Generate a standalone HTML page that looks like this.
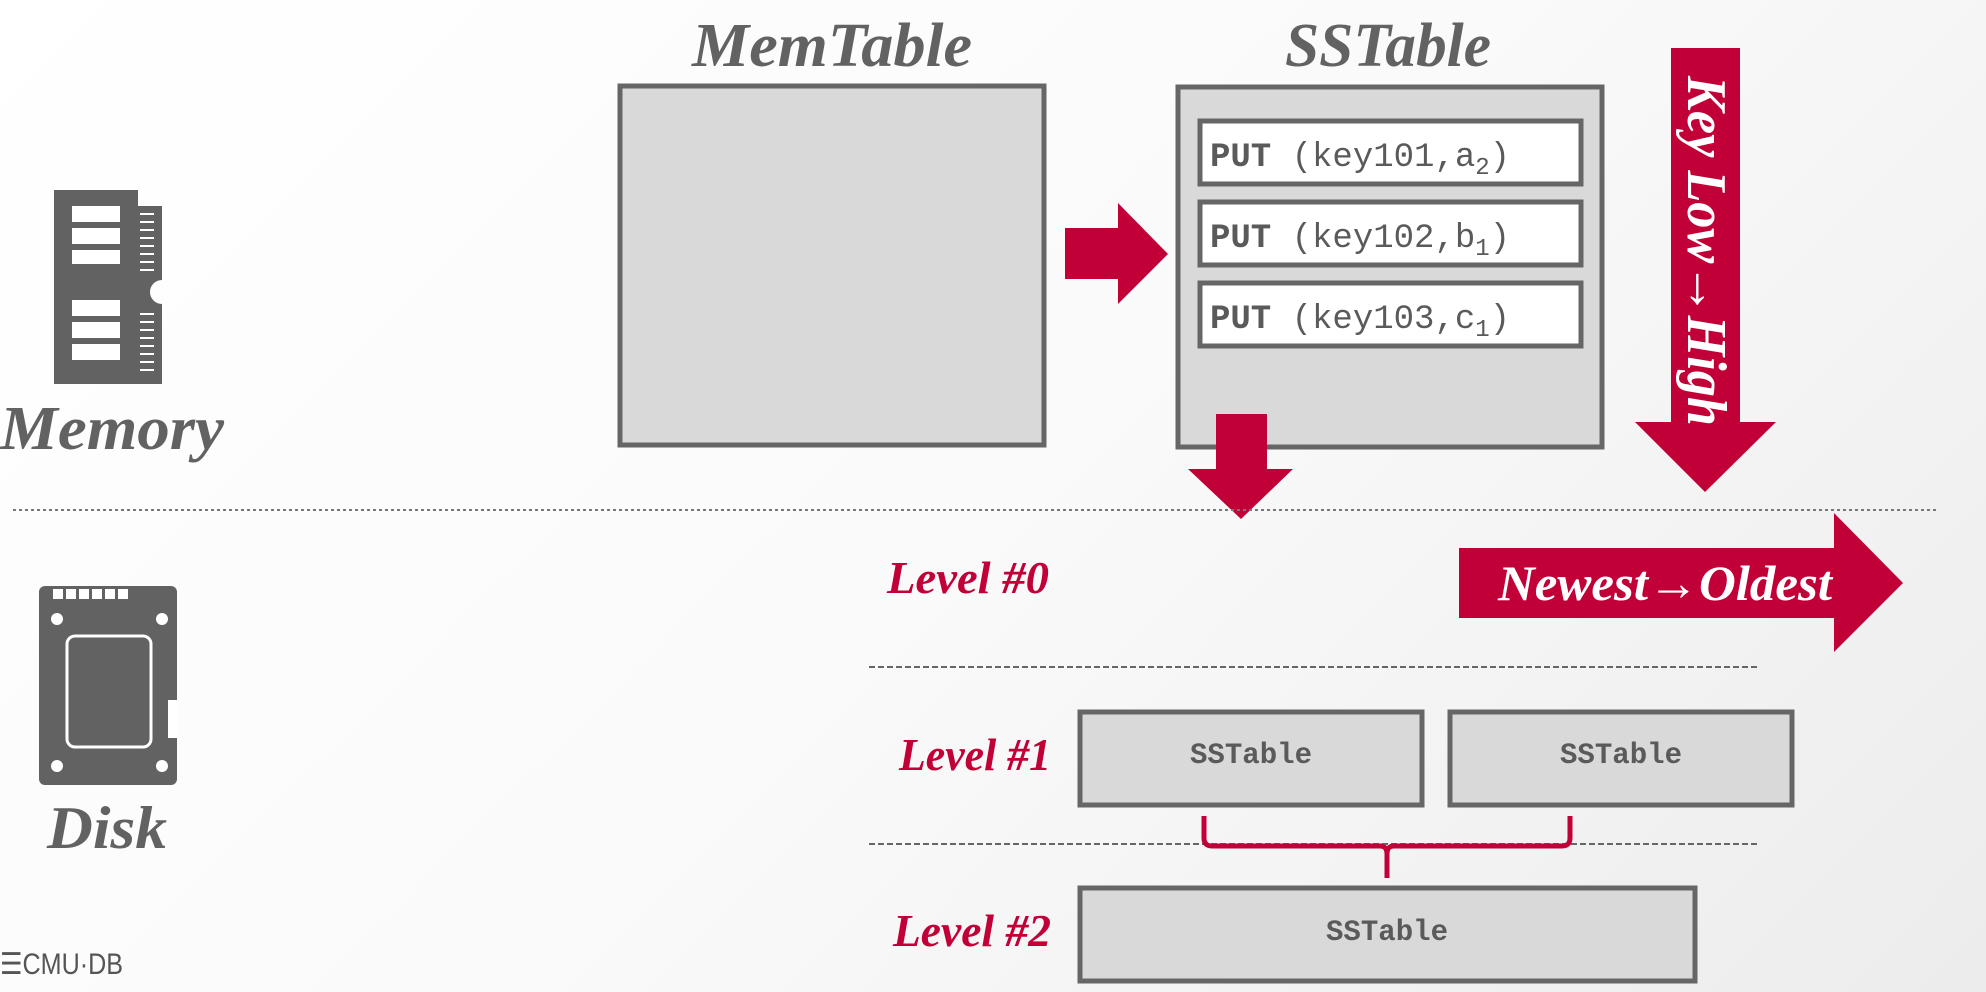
<!DOCTYPE html>
<html><head><meta charset="utf-8"><style>
html,body{margin:0;padding:0;}
body{width:1986px;height:992px;overflow:hidden;background:linear-gradient(135deg,#ffffff 0%,#fafafa 50%,#ececec 100%);}
svg{display:block}
.ti{font-family:"Liberation Serif",serif;font-style:italic;font-weight:bold;}
.mono{font-family:"Liberation Mono",monospace;}
</style></head><body>
<svg width="1986" height="992" viewBox="0 0 1986 992" xmlns="http://www.w3.org/2000/svg">
<!-- Memory icon -->
<g fill="#626262">
<path d="M54,190 H138 V384 H54 Z"/>
<path d="M138,206 H162 V280 A12,12 0 0 0 162,304 V384 H138 Z"/>
</g>
<g fill="#fff">
<rect x="72" y="206" width="48" height="16"/><rect x="72" y="228" width="48" height="16"/><rect x="72" y="250" width="48" height="14"/>
<rect x="72" y="300" width="48" height="16"/><rect x="72" y="322" width="48" height="16"/><rect x="72" y="344" width="48" height="16"/>
</g>
<g stroke="#fff" stroke-width="2">
<line x1="140" y1="214" x2="154" y2="214"/><line x1="140" y1="222" x2="154" y2="222"/><line x1="140" y1="230" x2="154" y2="230"/><line x1="140" y1="238" x2="154" y2="238"/><line x1="140" y1="246" x2="154" y2="246"/><line x1="140" y1="254" x2="154" y2="254"/><line x1="140" y1="262" x2="154" y2="262"/><line x1="140" y1="270" x2="154" y2="270"/>
<line x1="140" y1="314" x2="154" y2="314"/><line x1="140" y1="322" x2="154" y2="322"/><line x1="140" y1="330" x2="154" y2="330"/><line x1="140" y1="338" x2="154" y2="338"/><line x1="140" y1="346" x2="154" y2="346"/><line x1="140" y1="354" x2="154" y2="354"/><line x1="140" y1="362" x2="154" y2="362"/><line x1="140" y1="370" x2="154" y2="370"/>
</g>
<text class="ti" x="0" y="449" font-size="62" fill="#626262" textLength="224" lengthAdjust="spacingAndGlyphs">Memory</text>
<!-- Disk icon -->
<rect x="39" y="586" width="138" height="199" rx="6" fill="#626262"/>
<g fill="#fff"><rect x="53" y="589" width="10" height="10"/><rect x="66" y="589" width="10" height="10"/><rect x="79" y="589" width="10" height="10"/><rect x="92" y="589" width="10" height="10"/><rect x="105" y="589" width="10" height="10"/><rect x="118" y="589" width="10" height="10"/>
<circle cx="57" cy="619" r="6"/><circle cx="162" cy="619" r="6"/><circle cx="57" cy="766" r="6"/><circle cx="162" cy="766" r="6"/>
<rect x="168" y="700" width="10" height="38"/></g>
<rect x="67" y="636" width="84" height="111" rx="8" fill="none" stroke="#fff" stroke-width="3"/>
<text class="ti" x="47" y="848" font-size="60" fill="#626262" textLength="120" lengthAdjust="spacingAndGlyphs">Disk</text>
<text x="0" y="974" font-family="Liberation Sans,sans-serif" font-size="30" fill="#555" textLength="123" lengthAdjust="spacingAndGlyphs">☰CMU·DB</text>
<!-- titles -->
<text class="ti" x="832" y="66" text-anchor="middle" font-size="62" fill="#626262" textLength="280" lengthAdjust="spacingAndGlyphs">MemTable</text>
<text class="ti" x="1388" y="66" text-anchor="middle" font-size="62" fill="#626262" textLength="206" lengthAdjust="spacingAndGlyphs">SSTable</text>
<!-- MemTable box -->
<rect x="620" y="86" width="424" height="359" fill="#d9d9d9" stroke="#666" stroke-width="5"/>
<!-- SSTable box -->
<rect x="1178" y="87" width="424" height="360" fill="#d9d9d9" stroke="#666" stroke-width="5"/>
<g fill="#fff" stroke="#666" stroke-width="5">
<rect x="1200" y="121" width="381" height="63"/>
<rect x="1200" y="202" width="381" height="63"/>
<rect x="1200" y="283" width="381" height="63"/>
</g>
<g class="mono" font-size="34" fill="#5a5a5a">
<text x="1210" y="166"><tspan font-weight="bold">PUT</tspan> (key101,a<tspan font-size="24" dy="8">2</tspan><tspan dy="-8">)</tspan></text>
<text x="1210" y="247"><tspan font-weight="bold">PUT</tspan> (key102,b<tspan font-size="24" dy="8">1</tspan><tspan dy="-8">)</tspan></text>
<text x="1210" y="328"><tspan font-weight="bold">PUT</tspan> (key103,c<tspan font-size="24" dy="8">1</tspan><tspan dy="-8">)</tspan></text>
</g>
<!-- red arrows -->
<g fill="#c20038">
<polygon points="1065,228 1118,228 1118,203 1168,254 1118,304 1118,279 1065,279"/>
<polygon points="1216,414 1267,414 1267,469 1293,469 1241,519 1188,469 1216,469"/>
<polygon points="1671,48 1740,48 1740,422 1776,422 1705,492 1635,422 1671,422"/>
<polygon points="1459,548 1834,548 1834,513 1903,583 1834,652 1834,618 1459,618"/>
</g>
<text class="ti" transform="translate(1688,251) rotate(90)" x="0" y="0" text-anchor="middle" font-size="56" fill="#fff" textLength="350" lengthAdjust="spacingAndGlyphs">Key Low→High</text>
<text class="ti" x="1665" y="600" text-anchor="middle" font-size="50" fill="#fff" textLength="334" lengthAdjust="spacingAndGlyphs">Newest→Oldest</text>
<!-- dotted divider -->
<line x1="13" y1="510" x2="1938" y2="510" stroke="#777" stroke-width="2" stroke-dasharray="3,3"/>
<!-- levels -->
<g class="ti" font-size="46" fill="#c20038">
<text x="887" y="593" textLength="162" lengthAdjust="spacingAndGlyphs">Level #0</text>
<text x="899" y="770" textLength="152" lengthAdjust="spacingAndGlyphs">Level #1</text>
<text x="893" y="946" textLength="158" lengthAdjust="spacingAndGlyphs">Level #2</text>
</g>
<line x1="869" y1="667" x2="1758" y2="667" stroke="#666" stroke-width="2" stroke-dasharray="6,3"/>
<line x1="869" y1="844" x2="1758" y2="844" stroke="#666" stroke-width="2" stroke-dasharray="6,3"/>
<g fill="#d9d9d9" stroke="#666" stroke-width="5">
<rect x="1080" y="712" width="342" height="93"/>
<rect x="1450" y="712" width="342" height="93"/>
<rect x="1080" y="888" width="615" height="93"/>
</g>
<g class="mono" font-size="30" font-weight="bold" fill="#5a5a5a" text-anchor="middle">
<text x="1251" y="763" textLength="122" lengthAdjust="spacingAndGlyphs">SSTable</text>
<text x="1621" y="763" textLength="122" lengthAdjust="spacingAndGlyphs">SSTable</text>
<text x="1387" y="940" textLength="122" lengthAdjust="spacingAndGlyphs">SSTable</text>
</g>
<!-- brace -->
<path d="M1204,816 V838 Q1204,846 1212,846 H1380 Q1387,846 1387,854 V878 M1387,854 Q1387,846 1394,846 H1562 Q1570,846 1570,838 V816" fill="none" stroke="#c20038" stroke-width="5"/>
</svg>
</body></html>
